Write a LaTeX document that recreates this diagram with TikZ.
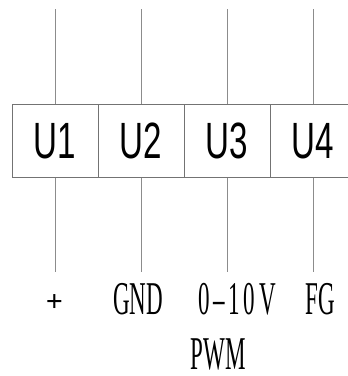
\documentclass[tikz,border=0pt]{standalone}
\usepackage{fontspec}
\newfontfamily\ufont[FakeStretch=0.65]{Liberation Sans}
\newfontfamily\lfont[FakeStretch=0.49]{Liberation Serif}
\newfontfamily\pfont{Liberation Serif}
\begin{document}
\begin{tikzpicture}[x=1pt,y=-1pt,
  wire/.style={draw=black!45,line width=0.9pt},
  cell/.style={draw=black!55,line width=0.9pt,rectangle,minimum width=86pt,minimum height=72.5pt,inner sep=0pt,font=\ufont\fontsize{51}{51}\selectfont},
  lab/.style={inner sep=0pt,anchor=base,font=\lfont\fontsize{47}{47}\selectfont}]
\useasboundingbox (0,0) rectangle (348,376);
\clip (0,0) rectangle (348,376);
\fill[white] (0,0) rectangle (348,376);
\node[cell] (u1) at (55,141) {U1};
\node[cell] (u2) at (141,141) {U2};
\node[cell] (u3) at (227,141) {U3};
\node[cell] (u4) at (313,141) {U4};
\foreach \i/\x in {1/55,2/141,3/227,4/313}{
  \coordinate (t\i) at (\x,9);
  \coordinate (b\i) at (\x,272);
  \draw[wire] (t\i) -- (u\i.north);
  \draw[wire] (u\i.south) -- (b\i);
}
\node[inner sep=0pt,font=\pfont\bfseries\fontsize{30}{30}\selectfont] (l1) at (54.5,303.5) {+};
\node[lab] (l2) at (138,314) {GND};
\node[lab] (l3) at (237,314) {\addfontfeature{LetterSpace=8}0–10V};
\node[lab] (l4) at (320,314) {FG};
\node[lab] (l5) at (218,369) {PWM};
\end{tikzpicture}
\end{document}
